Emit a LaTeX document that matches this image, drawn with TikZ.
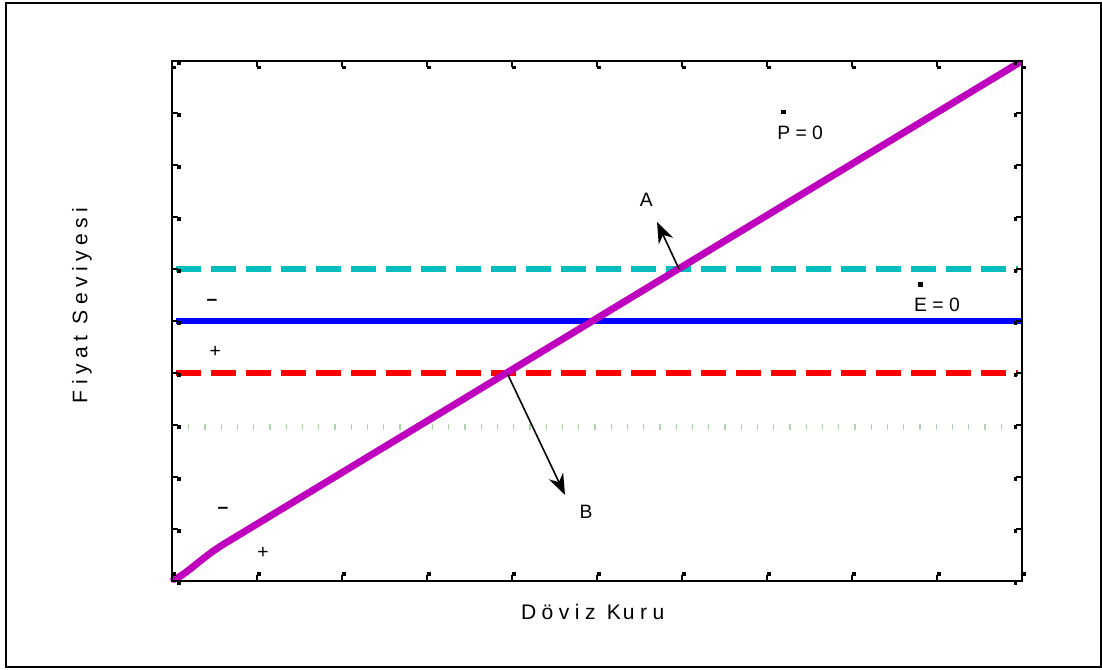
\documentclass[tikz,border=0pt]{standalone}
\usepackage{fontspec}
\setmainfont{Liberation Sans}
\newfontfamily\spacedfont[LetterSpace=26]{Liberation Sans}
\usepackage{tikz}
\usetikzlibrary{arrows.meta}
\usepackage{xcolor}
\definecolor{curveP}{RGB}{190, 0, 190}
\definecolor{lineA}{RGB}{0, 190, 190}
\definecolor{lineE}{RGB}{0, 0, 255}
\definecolor{lineB}{RGB}{255, 0, 0}
\definecolor{lineG}{RGB}{170, 215, 170}
% dot drawn high above a letter
\newcommand{\dotover}[1]{\leavevmode\rlap{\kern0.2em\raisebox{1.3em}{\rule{0.25em}{0.25em}}}#1}

\begin{document}
\begin{tikzpicture}[>=Stealth, font=\fontsize{11}{13}\selectfont,
    lvl/.style={line width=0.13cm},
    tickmark/.style={line width=0.9pt},
    arr/.style={->, line width=0.9pt, >={Stealth[length=12pt, width=9pt]}}]
  \useasboundingbox (0,0) rectangle (22.04,13.4);
  % outer frame
  \draw[line width=1.2pt] (0.12,0.06) rectangle (22.02,13.34);
  \begin{scope}[shift={(3.44,1.78)}, x=1.7cm, y=1.04cm]
    % levels
    \draw[lvl, lineG, line width=0.12cm, dash pattern=on 0.025cm off 0.3cm] (0.19,2.97) -- (9.8,2.97);
    \draw[lvl, lineB, dash pattern=on 0.5cm off 0.2cm] (0.05,4) -- (9.95,4);
    \draw[lvl, lineE] (0.05,5) -- (10,5);
    \draw[lvl, lineA, dash pattern=on 0.5cm off 0.2cm] (0.05,6) -- (9.95,6);
    % P = 0 curve
    \draw[line width=0.14cm, curveP, line cap=round] (0.02,0.03) .. controls (0.15,0.1) and (0.35,0.45) .. (0.6,0.7) -- (9.96,9.96);
    % axes
    \draw[line width=1.6pt] (0,0) rectangle (10,10);
    \foreach \i in {0,...,10} {
      \draw[tickmark] (\i,0) -- ++(0,0.12cm);
      \fill (\i,0) ++(0,0.1cm) rectangle ++(0.08cm,0.07cm);
      \draw[tickmark] (\i,10) -- ++(0,-0.12cm);
      \fill (\i,10) ++(0,-0.1cm) rectangle ++(0.08cm,-0.07cm);
      \draw[tickmark] (0,\i) -- ++(0.12cm,0);
      \fill (0,\i) ++(0.1cm,0) rectangle ++(0.07cm,-0.08cm);
      \draw[tickmark] (10,\i) -- ++(-0.12cm,0);
      \fill (10,\i) ++(-0.1cm,0) rectangle ++(-0.07cm,-0.08cm);
    }
    % labels
    \node[anchor=base] (pzero) at (7.39,8.49) {\dotover{P} = 0};
    \node[anchor=base] (ezero) at (9.0,5.18) {\dotover{E} = 0};
    \node (mtop) at (0.47,5.35) {\textbf{–}};
    \node (ptop) at (0.51,4.40) {+};
    \node (mbot) at (0.6,1.35) {\textbf{–}};
    \node (pbot) at (1.07,0.54) {+};
    \node (A) at (5.58,7.33) {A};
    \node (B) at (4.87,1.33) {B};
    \coordinate (Abase) at (5.965,6.0);
    \coordinate (Atip) at (5.706,6.904);
    \coordinate (Bbase) at (3.953,3.962);
    \coordinate (Btip) at (4.624,1.654);
    \draw[arr] (Abase) -- (Atip);
    \draw[arr] (Bbase) -- (Btip);
    % axis titles
    \node[font=\large\spacedfont] (xtitle) at (4.95,-0.6) {D\kern3pt öviz K\kern1pt uru};
    \node[font=\large\spacedfont, rotate=90] (ytitle) at (-1.06,5.3) {Fiyat Seviyesi};
  \end{scope}
\end{tikzpicture}
\end{document}
